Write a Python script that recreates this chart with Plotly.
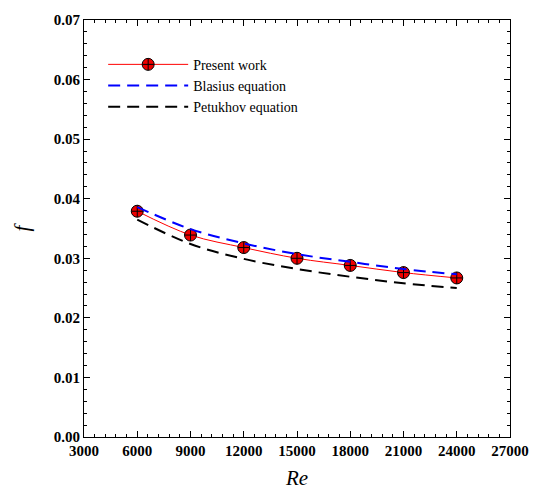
import plotly.graph_objects as go

re_vals = [6000, 9000, 12000, 15000, 18000, 21000, 24000]
f_present = [0.0379, 0.0339, 0.0318, 0.0300, 0.0288, 0.0276, 0.0267]
f_blasius = [0.0386, 0.0349, 0.0325, 0.0307, 0.0294, 0.0282, 0.0273]
f_petukhov = [0.0365, 0.0324, 0.0299, 0.0282, 0.0269, 0.0258, 0.0250]

x_ticks = [3000, 6000, 9000, 12000, 15000, 18000, 21000, 24000, 27000]
y_ticks = [0.00, 0.01, 0.02, 0.03, 0.04, 0.05, 0.06, 0.07]

font_family = "Liberation Serif"

fig = go.Figure()
fig.add_trace(go.Scatter(
    x=re_vals, y=f_present, name="Present work", mode="lines+markers",
    line=dict(color="#ff0000", width=1, shape="spline"),
    marker=dict(symbol="circle-cross", size=12, color="#ee0000",
                line=dict(color="black", width=1)),
))
fig.add_trace(go.Scatter(
    x=re_vals, y=f_blasius, name="Blasius equation", mode="lines",
    line=dict(color="#0000ff", width=2, dash="12px,7px", shape="spline"),
))
fig.add_trace(go.Scatter(
    x=re_vals, y=f_petukhov, name="Petukhov equation", mode="lines",
    line=dict(color="black", width=2, dash="12px,7px", shape="spline"),
))

axis_common = dict(
    showline=True, linecolor="black", linewidth=1, mirror="ticks",
    ticks="inside", ticklen=6, tickwidth=1, tickcolor="black",
    showgrid=False, zeroline=False,
    tickfont=dict(family=font_family, size=15, color="black", weight="bold"),
)

fig.update_xaxes(
    range=[3000, 27000], tickvals=x_ticks, ticktext=[str(v) for v in x_ticks],
    minor=dict(ticks="inside", ticklen=3, dtick=600, tickcolor="black", tickwidth=1),
    title=dict(text="<i>Re</i>", font=dict(family=font_family, size=21, color="black"), standoff=12),
    **axis_common,
)
fig.update_yaxes(
    range=[0, 0.07], tickvals=y_ticks, ticktext=[f"{v:.2f}" for v in y_ticks],
    minor=dict(ticks="inside", ticklen=3, dtick=0.002, tickcolor="black", tickwidth=1),
    title=dict(text="<i>f</i>", font=dict(family=font_family, size=21, color="black"), standoff=18),
    **axis_common,
)

fig.update_layout(
    width=541, height=501,
    margin=dict(l=84, r=29, t=14, b=64),
    paper_bgcolor="white", plot_bgcolor="white",
    showlegend=True,
    legend=dict(x=0.045, y=0.931, xanchor="left", yanchor="top",
                font=dict(family=font_family, size=14, color="black"),
                bgcolor="rgba(0,0,0,0)", tracegroupgap=0, itemwidth=80),
)

fig.write_html("out.html")
